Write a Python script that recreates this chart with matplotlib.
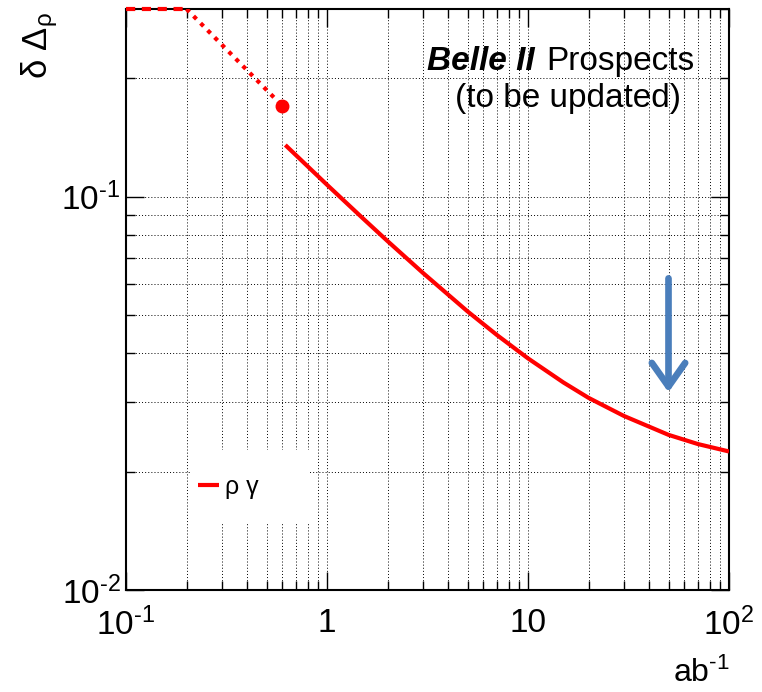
import matplotlib
matplotlib.use('Agg')
import matplotlib.pyplot as plt
import matplotlib.patches as mpatches
from matplotlib.ticker import LogLocator, NullFormatter, FixedLocator, FixedFormatter

plt.rcParams['font.family'] = ['Liberation Sans', 'DejaVu Sans']
plt.rcParams['axes.unicode_minus'] = False
plt.rcParams['mathtext.fontset'] = 'custom'
plt.rcParams['mathtext.rm'] = 'Liberation Sans'
plt.rcParams['mathtext.it'] = 'Liberation Sans:italic'
plt.rcParams['mathtext.bf'] = 'Liberation Sans:bold'

# ── data ──────────────────────────────────────────────
# projected resolution vs integrated luminosity (ab^-1)
lumi = [0.62, 0.8, 1, 1.5, 2, 3, 5, 7, 10, 15, 20, 30, 50, 70, 100]
delta = [0.1353, 0.1195, 0.1072, 0.0883, 0.0771, 0.0640, 0.0511, 0.0445,
         0.0388, 0.0337, 0.0308, 0.0277, 0.0248, 0.0235, 0.0225]

# early-running part (dashed / dotted)
flat_lumi = [0.1, 0.2]
flat_delta = [0.3, 0.3]
extrap_lumi = [0.2, 0.6]
extrap_delta = [0.3, 0.17]
point_lumi = [0.6]
point_delta = [0.17]

# blue arrow
arrow_lumi = 50
arrow_from = 0.063
arrow_to = 0.0313

HY = '\u2010'  # short hyphen like ROOT superscripts
xtick_vals = [0.1, 1, 10, 100]
xtick_labels = ['$\\mathregular{10^{%s1}}$' % HY, '1', '10', '$\\mathregular{10^{2}}$']
ytick_vals = [0.01, 0.1]
ytick_labels = ['$\\mathregular{10^{%s2}}$' % HY, '$\\mathregular{10^{%s1}}$' % HY]

RED = '#FF0000'
BLUE = '#4A7EBB'

fig = plt.figure(figsize=(7.62, 6.92), dpi=100)
ax = fig.add_axes([0.1654, 0.1474, 0.7913, 0.8396])
ax.set_xscale('log')
ax.set_yscale('log')
ax.set_xlim(0.1, 100)
ax.set_ylim(0.01, 0.3)

# grid on every decade + sub-decade
ax.set_axisbelow(True)
ax.grid(which='both', color='black', linestyle=(0, (1, 2.2)), linewidth=0.7)

ax.xaxis.set_major_locator(FixedLocator(xtick_vals))
ax.xaxis.set_major_formatter(FixedFormatter(xtick_labels))
ax.xaxis.set_minor_locator(LogLocator(base=10, subs=range(2, 10), numticks=20))
ax.xaxis.set_minor_formatter(NullFormatter())
ax.yaxis.set_major_locator(FixedLocator(ytick_vals))
ax.yaxis.set_major_formatter(FixedFormatter(ytick_labels))
ax.yaxis.set_minor_locator(LogLocator(base=10, subs=range(2, 10), numticks=20))
ax.yaxis.set_minor_formatter(NullFormatter())

ax.tick_params(which='both', direction='in', top=True, right=True, width=1.0, labelsize=24)
ax.tick_params(which='major', length=13)
ax.tick_params(which='minor', length=6.5)
ax.tick_params(axis='x', which='major', pad=13)
ax.tick_params(axis='y', which='major', pad=4)
for sp in ax.spines.values():
    sp.set_linewidth(1.5)

# legend background (hides grid)
ax.add_patch(mpatches.Rectangle((0.106, 0.115), 0.199, 0.126, transform=ax.transAxes,
                                facecolor='white', edgecolor='none', zorder=1))

# curves
ax.plot(lumi, delta, color=RED, lw=3, solid_capstyle='butt', zorder=3, label='ρ γ')
ax.plot(flat_lumi, flat_delta, color=RED, lw=3, linestyle=(0, (2.2, 1.6)),
        clip_on=False, zorder=3)
ax.plot(extrap_lumi, extrap_delta, color=RED, lw=3, linestyle=(0, (1, 1.4)), zorder=3)
ax.plot(point_lumi, point_delta, 'o', color=RED, ms=9, zorder=4)

ax.annotate('', xy=(arrow_lumi, arrow_to), xytext=(arrow_lumi, arrow_from),
            arrowprops=dict(arrowstyle='->, head_length=0.85, head_width=0.6',
                            lw=4.8, color=BLUE, mutation_scale=20),
            zorder=5)

leg = ax.legend(loc='center left', bbox_to_anchor=(0.119, 0.177), frameon=False,
                fontsize=18, handlelength=0.85, handletextpad=0.25,
                borderpad=0, borderaxespad=0)

# Belle II label
fig.text(0.701, 0.8988, 'Belle II', fontsize=24, fontweight='bold', fontstyle='italic',
         ha='right', va='baseline')
fig.text(0.717, 0.8988, 'Prospects', fontsize=24, ha='left', va='baseline')
fig.text(0.746, 0.8454, '(to be updated)', fontsize=24, ha='center', va='baseline')

# axis titles
fig.text(0.052, 0.983, '$\\mathregular{δ\\ Δ_{ρ}}$', rotation=90, fontsize=25,
         ha='center', va='top')
fig.text(0.958, 0.0275, '$\\mathregular{ab^{%s1}}$' % HY, fontsize=23, ha='right', va='center')

fig.savefig('out.png', dpi=100)
